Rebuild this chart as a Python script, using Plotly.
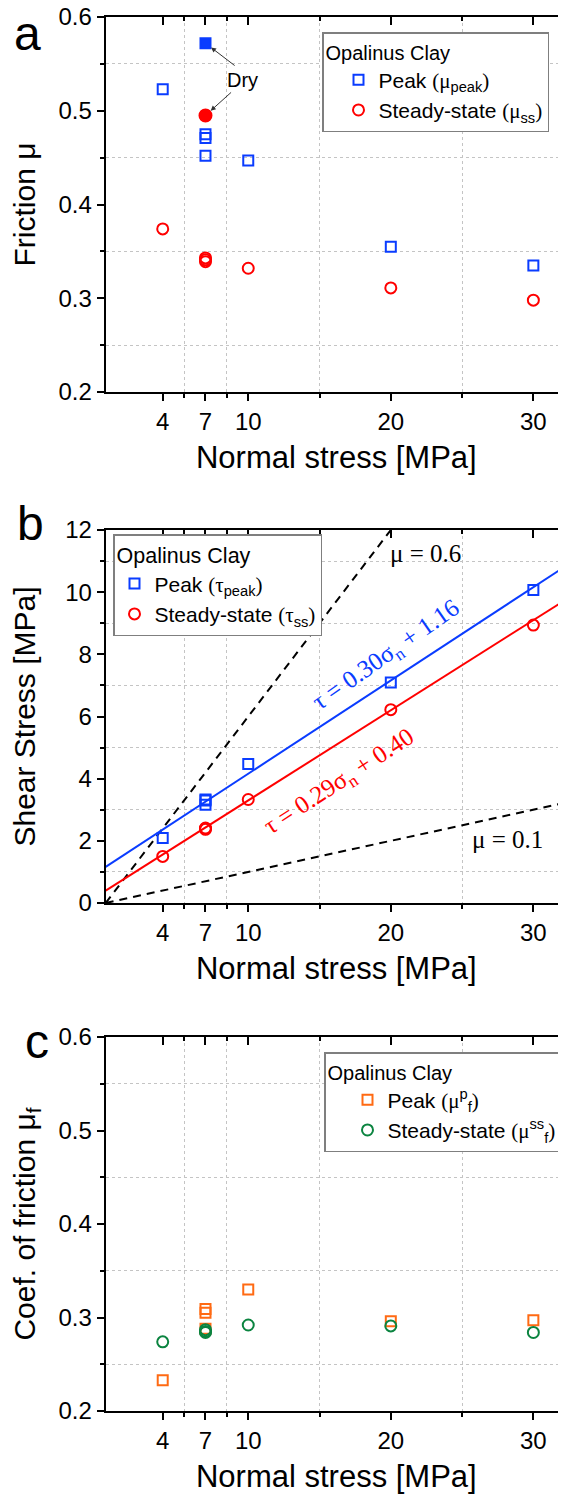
import numpy as np
import plotly.graph_objects as go

# normal stress [MPa] of the wet tests (three repeats at 7 MPa)
stress = [4, 7, 7, 7, 10, 20, 30]
# panel a: friction
mu_peak = [0.523, 0.475, 0.471, 0.452, 0.447, 0.355, 0.335]
mu_ss = [0.374, 0.343, 0.341, 0.339, 0.332, 0.311, 0.298]
# dry test
dry_stress = [7]
dry_mu_peak = [0.572]
dry_mu_ss = [0.495]
# panel b: shear stress [MPa]
tau_peak = [2.09, 3.33, 3.30, 3.16, 4.47, 7.09, 10.07]
tau_ss = [1.50, 2.41, 2.39, 2.37, 3.33, 6.22, 8.94]
fit_peak = [0.30, 1.16]   # slope, intercept
fit_ss = [0.29, 0.40]
mu_lines = [0.6, 0.1]
# panel c: coefficient of friction
muf_peak = [0.233, 0.309, 0.305, 0.288, 0.330, 0.296, 0.297]
muf_ss = [0.274, 0.287, 0.285, 0.284, 0.292, 0.291, 0.284]

x_ticks = [4, 7, 10, 20, 30]
x_minor = [5.5, 8.5, 15, 25]

W, H = 566, 1496
PAGE = 8  # the html body margin offsets the figure on the page
SANS = "Liberation Sans, Arial, sans-serif"
SERIF = "Liberation Serif, Times New Roman, serif"
BLUE = "#0a3cff"
RED = "#ff0000"
ORANGE = "#ff6a13"
GREEN = "#0b8440"
GRID = "#c4c4c4"

x_dom = [(105.7 - PAGE) / W, (567 - PAGE) / W]
x_range = [0, 32.36]


def px(x):
    return (x - PAGE) / W


def py(y):
    return 1 - (y - PAGE) / H


def ydom(top, bottom):
    return [py(bottom), py(top)]


def bottom_axis(anchor):
    return dict(
        domain=x_dom, range=x_range, anchor=anchor, automargin=False,
        tickmode="array", tickvals=x_ticks, ticklabeloverflow="allow",
        ticks="outside", ticklen=7, tickwidth=2, tickcolor="black",
        showline=True, linewidth=2, linecolor="black", mirror=True,
        showgrid=False, zeroline=False,
        tickfont=dict(size=24, color="black"),
        minor=dict(tickmode="array", tickvals=x_minor, ticks="outside", ticklen=4,
                   tickwidth=2, tickcolor="black", showgrid=True,
                   gridcolor=GRID, griddash="dot", gridwidth=1),
        title=dict(text="Normal stress [MPa]", font=dict(size=31, color="black"), standoff=13),
    )


def top_axis(base, anchor):
    return dict(
        overlaying=base, side="top", anchor=anchor, range=x_range, automargin=False,
        tickmode="array", tickvals=x_ticks, showticklabels=False,
        ticks="inside", ticklen=8, tickwidth=2, tickcolor="black",
        showline=True, linewidth=2, linecolor="black",
        showgrid=False, zeroline=False,
        minor=dict(tickmode="array", tickvals=x_minor, ticks="inside", ticklen=4,
                   tickwidth=2, tickcolor="black", showgrid=False),
    )


def left_axis(anchor, dom, rng, dtick, minor_vals, title, fmt, standoff):
    return dict(
        domain=dom, range=rng, anchor=anchor, automargin=False,
        tick0=rng[0], dtick=dtick, tickformat=fmt, ticklabeloverflow="allow",
        ticks="outside", ticklen=7, tickwidth=2, tickcolor="black",
        showline=True, linewidth=2, linecolor="black", mirror=True,
        showgrid=False, zeroline=False,
        tickfont=dict(size=24, color="black"),
        minor=dict(tickmode="array", tickvals=minor_vals, ticks="outside", ticklen=4,
                   tickwidth=2, tickcolor="black", showgrid=True,
                   gridcolor=GRID, griddash="dot", gridwidth=1),
        title=dict(text=title, font=dict(size=30, color="black"), standoff=standoff),
    )


def right_axis(base, anchor, rng, dtick, minor_vals):
    return dict(
        overlaying=base, side="right", anchor=anchor, range=rng, automargin=False,
        tick0=rng[0], dtick=dtick, showticklabels=False,
        ticks="inside", ticklen=8, tickwidth=2, tickcolor="black",
        showline=False, showgrid=False, zeroline=False,
        minor=dict(tickmode="array", tickvals=minor_vals, ticks="inside", ticklen=4,
                   tickwidth=2, tickcolor="black", showgrid=False),
    )


def sym(marker, color, size=10, filled=False):
    return dict(symbol=marker, size=size, color=color if filled else "rgba(0,0,0,0)",
                line=dict(color=color, width=2))


def serif(s):
    return "<span style='font-family:Liberation Serif'>" + s + "</span>"


fig = go.Figure()

# ---- panel a
fig.add_trace(go.Scatter(x=stress, y=mu_peak, mode="markers", xaxis="x", yaxis="y",
                         marker=sym("square", BLUE), legend="legend",
                         name="Peak " + serif("(μ") + "<sub>peak</sub>" + serif(")")))
fig.add_trace(go.Scatter(x=stress, y=mu_ss, mode="markers", xaxis="x", yaxis="y",
                         marker=sym("circle", RED, 11), legend="legend",
                         name="Steady-state " + serif("(μ") + "<sub>ss</sub>" + serif(")")))
fig.add_trace(go.Scatter(x=dry_stress, y=dry_mu_peak, mode="markers", xaxis="x", yaxis="y",
                         marker=sym("square", BLUE, 10, True), showlegend=False))
fig.add_trace(go.Scatter(x=dry_stress, y=dry_mu_ss, mode="markers", xaxis="x", yaxis="y",
                         marker=sym("circle", RED, 12, True), showlegend=False))

# ---- panel b
xs = np.array(x_range)
for mu in mu_lines:
    fig.add_trace(go.Scatter(x=xs, y=mu * xs, mode="lines", xaxis="x2", yaxis="y2",
                             line=dict(color="black", width=2, dash="8px,6px"), showlegend=False))
fig.add_trace(go.Scatter(x=xs, y=fit_peak[0] * xs + fit_peak[1], mode="lines", xaxis="x2", yaxis="y2",
                         line=dict(color=BLUE, width=2), showlegend=False))
fig.add_trace(go.Scatter(x=xs, y=fit_ss[0] * xs + fit_ss[1], mode="lines", xaxis="x2", yaxis="y2",
                         line=dict(color=RED, width=2), showlegend=False))
fig.add_trace(go.Scatter(x=stress, y=tau_peak, mode="markers", xaxis="x2", yaxis="y2",
                         marker=sym("square", BLUE), legend="legend2",
                         name="Peak " + serif("(τ") + "<sub>peak</sub>" + serif(")")))
fig.add_trace(go.Scatter(x=stress, y=tau_ss, mode="markers", xaxis="x2", yaxis="y2",
                         marker=sym("circle", RED, 11), legend="legend2",
                         name="Steady-state " + serif("(τ") + "<sub>ss</sub>" + serif(")")))

# ---- panel c
fig.add_trace(go.Scatter(x=stress, y=muf_peak, mode="markers", xaxis="x3", yaxis="y3",
                         marker=sym("square", ORANGE), legend="legend3",
                         name="Peak " + serif("(μ") + "<sup>p</sup><sub>f</sub>" + serif(")")))
fig.add_trace(go.Scatter(x=stress, y=muf_ss, mode="markers", xaxis="x3", yaxis="y3",
                         marker=sym("circle", GREEN, 11), legend="legend3",
                         name="Steady-state " + serif("(μ") + "<sup>ss</sup><sub>f</sub>" + serif(")")))

# empty traces so the mirrored top/right frame axes get drawn
for xa, ya in [("x4", "y"), ("x", "y4"), ("x5", "y2"), ("x2", "y5"), ("x6", "y3"), ("x3", "y6")]:
    fig.add_trace(go.Scatter(x=[], y=[], xaxis=xa, yaxis=ya, mode="markers",
                             showlegend=False, hoverinfo="skip"))

dom_a = ydom(17, 392)
dom_b = ydom(530, 903)
dom_c = ydom(1037, 1411)
mu_minor = [0.25, 0.35, 0.45, 0.55]
tau_minor = [1, 3, 5, 7, 9, 11]


def legend_box(left, top, indent, title_size, item_size):
    return dict(
        x=px(left), y=py(top), xanchor="left", yanchor="top",
        bgcolor="white", bordercolor="#7f7f7f", borderwidth=1.5,
        font=dict(size=item_size, color="black"),
        title=dict(text="Opalinus Clay", font=dict(size=title_size, color="black")),
        indentation=indent, itemwidth=30,
    )


def panel_label(text, x, y):
    return dict(text=text, x=px(x), y=py(y), xref="paper", yref="paper",
                xanchor="center", yanchor="middle", showarrow=False,
                font=dict(size=48, color="black"))


annotations = [
    panel_label("a", 27, 33),
    panel_label("b", 30, 523),
    panel_label("c", 37, 1041),
    # dry labels
    dict(text="Dry", x=9.6, y=0.533, xref="x", yref="y", showarrow=False,
         font=dict(size=20, color="black")),
    dict(text="", x=dry_stress[0], y=dry_mu_peak[0], ax=9.15, ay=0.547, xref="x", yref="y",
         axref="x", ayref="y", showarrow=True, arrowhead=2, arrowsize=1, arrowwidth=1,
         arrowcolor="#333333", standoff=7),
    dict(text="", x=dry_stress[0], y=dry_mu_ss[0], ax=8.9, ay=0.521, xref="x", yref="y",
         axref="x", ayref="y", showarrow=True, arrowhead=2, arrowsize=1, arrowwidth=1,
         arrowcolor="#333333", standoff=7),
    # panel b texts
    dict(text="μ = 0.6", x=22.4, y=11.23, xref="x2", yref="y2", showarrow=False,
         font=dict(size=25, family=SERIF, color="black")),
    dict(text="μ = 0.1", x=28.2, y=2.03, xref="x2", yref="y2", showarrow=False,
         font=dict(size=25, family=SERIF, color="black")),
    dict(text="τ = 0.30σ<sub>n</sub> + 1.16", x=19.73, y=7.96, xref="x2", yref="y2",
         showarrow=False, textangle=-35, font=dict(size=25, family=SERIF, color=BLUE)),
    dict(text="τ = 0.29σ<sub>n</sub> + 0.40", x=16.4, y=3.88, xref="x2", yref="y2",
         showarrow=False, textangle=-33, font=dict(size=25, family=SERIF, color=RED)),
]

fig.update_layout(
    width=W, height=H,
    margin=dict(l=0, r=0, t=0, b=0, autoexpand=False),
    paper_bgcolor="white", plot_bgcolor="white",
    font=dict(family=SANS, color="black"),
    xaxis=bottom_axis("y"),
    xaxis2=bottom_axis("y2"),
    xaxis3=bottom_axis("y3"),
    xaxis4=top_axis("x", "y"),
    xaxis5=top_axis("x2", "y2"),
    xaxis6=top_axis("x3", "y3"),
    yaxis=left_axis("x", dom_a, [0.2, 0.6], 0.1, mu_minor, "Friction μ", ".1f", 16),
    yaxis2=left_axis("x2", dom_b, [0, 12], 2, tau_minor, "Shear Stress [MPa]", "d", 22),
    yaxis3=left_axis("x3", dom_c, [0.2, 0.6], 0.1, mu_minor, "Coef. of friction μ<sub>f</sub>", ".1f", 17),
    yaxis4=right_axis("y", "x", [0.2, 0.6], 0.1, mu_minor),
    yaxis5=right_axis("y2", "x2", [0, 12], 2, tau_minor),
    yaxis6=right_axis("y3", "x3", [0.2, 0.6], 0.1, mu_minor),
    legend=legend_box(322, 32, 15, 20, 21),
    legend2=legend_box(113, 534, 0, 21.5, 21),
    legend3=legend_box(324, 1052, 22, 20, 21),
    annotations=annotations,
)

fig.write_html("out.html")
